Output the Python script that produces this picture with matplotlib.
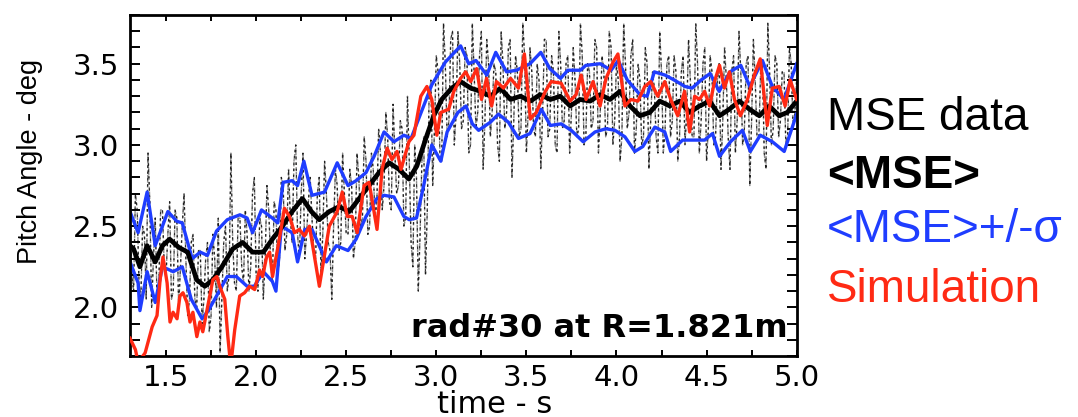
# MSE pitch angle vs time at rad#30, with mean, +/- sigma band and simulation

import numpy as np
import matplotlib.pyplot as plt
from matplotlib.ticker import MultipleLocator

# raw MSE samples, read at 1.30, 1.32, ... 5.00 s
raw_a = [2.55, 2.10, 2.60, 2.05, 2.45, 2.95, 2.00, 2.55, 2.15, 2.60, 2.20,
         2.65, 2.10, 2.55, 2.25, 2.70, 1.95, 2.40, 2.05, 2.35, 1.90,
         2.30, 1.85, 2.45, 2.00, 1.72, 2.40, 2.10, 2.95, 2.15, 2.55,
         2.25, 2.60, 2.10, 2.70, 2.20, 2.55, 2.05, 2.75, 2.30, 2.65,
         2.20, 2.80, 2.35, 2.85, 2.40, 3.00, 2.30, 2.95, 2.45, 2.80,
         2.35, 2.70, 2.20, 2.90, 2.40, 2.05, 2.85, 2.35, 2.95, 2.45,
         2.85, 2.30, 2.95, 2.50, 3.05, 2.45, 2.95, 2.55, 3.10, 2.60,
         3.20, 2.65, 3.25, 2.70, 3.15, 2.50, 3.30, 2.40, 3.00, 2.10,
         2.90, 2.20, 3.30, 2.75, 3.55, 2.95, 3.75, 3.05, 3.65, 3.00,
         3.70, 3.10, 3.60, 2.95, 3.75, 3.10, 3.55, 2.85, 3.65, 3.05,
         3.50, 3.00, 3.70, 3.10, 3.60, 2.80, 3.55, 3.05, 3.75, 2.95,
         3.60, 3.10, 3.50, 2.85, 3.65, 3.05, 3.55, 3.00, 3.70, 3.10,
         3.50, 2.95, 3.60, 3.05, 3.75, 3.00, 3.50, 3.10, 3.65, 2.95,
         3.55, 3.05, 3.70, 3.00, 3.50, 2.90, 3.75, 3.10, 3.55, 2.95,
         3.50, 3.00, 3.60, 2.85, 3.45, 3.05, 3.70, 2.95, 3.50, 3.05,
         3.55, 2.90, 3.45, 3.00, 3.65, 3.05, 3.75, 2.95, 3.50, 2.90,
         3.55, 3.00, 3.40, 2.85, 3.60, 3.05, 3.45, 2.95, 3.70, 3.00,
         3.50, 2.75, 3.65, 3.05, 3.45, 2.95, 3.75, 3.00, 3.55, 3.05,
         3.45, 3.00, 3.60, 3.10, 3.40]
# raw MSE samples in between, read at 1.31, 1.33, ... 4.99 s
raw_b = [2.20, 2.70, 2.15, 2.50, 2.05, 2.65, 2.30, 2.05, 2.60, 2.25,
         2.45, 2.05, 2.60, 2.00, 2.50, 2.30, 2.05, 2.45, 2.00, 2.35,
         2.05, 2.40, 1.95, 2.30, 2.55, 2.05, 2.50, 2.20, 2.40, 2.10,
         2.55, 2.15, 2.45, 2.25, 2.80, 2.10, 2.50, 2.30, 2.60, 2.15,
         2.60, 2.30, 2.75, 2.45, 2.55, 2.90, 2.45, 2.70, 2.30, 2.65,
         2.55, 2.30, 2.80, 2.45, 2.70, 2.35, 2.50, 2.75, 2.40, 2.70,
         2.45, 2.75, 2.40, 2.80, 2.55, 2.90, 2.50, 2.85, 2.65, 2.95,
         2.75, 3.05, 2.60, 2.95, 2.75, 3.10, 2.55, 2.90, 2.25, 2.80,
         2.45, 3.05, 2.60, 3.40, 3.10, 3.45, 2.90, 3.50, 3.15, 3.70,
         3.20, 3.50, 3.15, 3.55, 3.00, 3.45, 3.20, 3.70, 3.15, 3.50,
         3.20, 3.45, 2.90, 3.50, 3.20, 3.65, 3.15, 3.45, 3.10, 3.55,
         3.20, 3.45, 3.05, 3.40, 3.20, 3.65, 3.10, 3.45, 2.95, 3.50,
         3.15, 3.55, 3.20, 3.40, 3.10, 3.55, 3.05, 3.45, 3.15, 3.60,
         3.20, 3.45, 3.10, 3.60, 3.15, 3.40, 3.05, 3.50, 3.20, 3.65,
         3.10, 3.40, 3.05, 3.50, 3.15, 3.35, 2.95, 3.45, 3.10, 3.55,
         3.15, 3.45, 3.05, 3.55, 3.20, 3.40, 3.05, 3.50, 3.15, 3.60,
         3.10, 3.45, 3.05, 3.50, 3.15, 3.40, 2.85, 3.55, 3.15, 3.45,
         3.10, 3.55, 3.15, 3.40, 3.05, 3.50, 2.85, 3.45, 3.10, 3.50,
         3.15, 3.45, 3.05, 3.50, 3.20]

# <MSE>
mean_t = [1.30, 1.32, 1.355, 1.395, 1.44, 1.48, 1.52, 1.57, 1.62, 1.67, 1.715, 1.76,
          1.81, 1.87, 1.925, 1.98, 2.04, 2.09, 2.146, 2.20, 2.257, 2.307, 2.35, 2.406,
          2.46, 2.517, 2.572, 2.627, 2.682, 2.738, 2.793, 2.848, 2.892, 2.942, 2.986,
          3.03, 3.086, 3.135, 3.191, 3.246, 3.301, 3.356, 3.412, 3.467, 3.522, 3.577,
          3.633, 3.688, 3.743, 3.798, 3.854, 3.909, 3.964, 4.019, 4.075, 4.13, 4.185,
          4.24, 4.296, 4.351, 4.406, 4.461, 4.517, 4.572, 4.627, 4.682, 4.738, 4.793,
          4.848, 4.903, 4.948, 5.0]
mean_v = [2.38, 2.36, 2.25, 2.38, 2.28, 2.38, 2.42, 2.37, 2.34, 2.17, 2.13, 2.17,
          2.25, 2.36, 2.40, 2.34, 2.34, 2.42, 2.50, 2.59, 2.67, 2.59, 2.54, 2.59,
          2.62, 2.59, 2.67, 2.75, 2.83, 2.89, 2.85, 2.79, 2.87, 3.04, 3.18,
          3.28, 3.35, 3.39, 3.35, 3.33, 3.30, 3.35, 3.28, 3.30, 3.27, 3.31,
          3.28, 3.30, 3.24, 3.28, 3.27, 3.31, 3.28, 3.33, 3.24, 3.18, 3.20,
          3.27, 3.24, 3.27, 3.20, 3.24, 3.27, 3.18, 3.22, 3.27, 3.22, 3.18,
          3.24, 3.18, 3.20, 3.27]

# <MSE> + sigma
hi_t = [1.30, 1.345, 1.395, 1.44, 1.51, 1.56, 1.59, 1.645, 1.69, 1.73, 1.78, 1.84,
        1.91, 1.95, 1.98, 2.03, 2.09, 2.12, 2.15, 2.20, 2.23, 2.265, 2.31, 2.38,
        2.45, 2.51, 2.555, 2.61, 2.655, 2.71, 2.765, 2.82, 2.86, 2.975, 3.05, 3.135,
        3.18, 3.22, 3.28, 3.33, 3.39, 3.445, 3.52, 3.58, 3.63, 3.69, 3.73, 3.80,
        3.83, 3.91, 3.97, 4.01, 4.06, 4.13, 4.17, 4.21, 4.27, 4.32, 4.38, 4.42,
        4.47, 4.52, 4.57, 4.63, 4.69, 4.74, 4.81, 4.865, 4.93, 5.0]
hi_v = [2.59, 2.46, 2.71, 2.38, 2.59, 2.53, 2.52, 2.30, 2.34, 2.32, 2.47, 2.54,
        2.57, 2.55, 2.46, 2.60, 2.55, 2.52, 2.77, 2.78, 2.75, 2.90, 2.69, 2.71,
        2.89, 2.75, 2.78, 2.83, 2.93, 3.08, 3.02, 3.06, 3.04, 3.37, 3.51, 3.61,
        3.50, 3.52, 3.43, 3.57, 3.45, 3.46, 3.50, 3.57, 3.47, 3.41, 3.46, 3.46,
        3.49, 3.50, 3.46, 3.52, 3.40, 3.31, 3.30, 3.45, 3.43, 3.40, 3.36, 3.35,
        3.40, 3.44, 3.33, 3.45, 3.49, 3.36, 3.52, 3.36, 3.28, 3.50]

# <MSE> - sigma
lo_t = [1.30, 1.345, 1.355, 1.395, 1.44, 1.48, 1.54, 1.59, 1.64, 1.70, 1.74, 1.78,
        1.84, 1.89, 1.95, 1.99, 2.04, 2.09, 2.11, 2.14, 2.20, 2.23, 2.27, 2.31,
        2.35, 2.39, 2.445, 2.51, 2.555, 2.61, 2.67, 2.71, 2.765, 2.82, 2.85, 2.89,
        2.93, 2.975, 3.025, 3.06, 3.12, 3.165, 3.20, 3.235, 3.30, 3.345, 3.40, 3.456,
        3.52, 3.583, 3.633, 3.693, 3.749, 3.815, 3.881, 3.942, 3.992, 4.047, 4.102,
        4.146, 4.213, 4.268, 4.301, 4.367, 4.434, 4.489, 4.533, 4.572, 4.633, 4.699,
        4.743, 4.798, 4.865, 4.931, 5.0]
lo_v = [2.28, 2.15, 1.98, 2.22, 2.03, 2.25, 2.22, 2.25, 2.05, 1.93, 1.99, 2.07,
        2.19, 2.19, 2.13, 2.13, 2.22, 2.16, 2.10, 2.50, 2.46, 2.28, 2.48, 2.48,
        2.38, 2.28, 2.38, 2.35, 2.42, 2.56, 2.67, 2.69, 2.68, 2.56, 2.54, 2.55,
        2.75, 3.00, 2.90, 3.08, 3.20, 3.24, 3.13, 3.09, 3.14, 3.19, 3.14, 3.04,
        3.07, 3.22, 3.12, 3.13, 3.09, 3.02, 3.08, 3.10, 3.09, 3.05, 2.96,
        2.99, 3.11, 3.08, 2.96, 3.03, 3.03, 3.03, 3.07, 2.93, 3.02, 3.09,
        2.96, 3.06, 3.02, 2.96, 3.19]

# Simulation
sim_t = [1.30, 1.33, 1.345, 1.384, 1.423, 1.45, 1.467, 1.483, 1.506, 1.522, 1.539,
         1.561, 1.577, 1.594, 1.616, 1.633, 1.649, 1.671, 1.688, 1.704, 1.732, 1.76,
         1.782, 1.798, 1.826, 1.843, 1.859, 1.881, 1.909, 1.936, 1.964, 1.992, 2.019,
         2.036, 2.058, 2.075, 2.091, 2.119, 2.141, 2.157, 2.185, 2.213, 2.24, 2.268,
         2.296, 2.351, 2.406, 2.45, 2.478, 2.506, 2.533, 2.561, 2.599, 2.627, 2.671,
         2.699, 2.727, 2.754, 2.782, 2.804, 2.848, 2.876, 2.914, 2.948, 2.975, 3.003,
         3.025, 3.069, 3.097, 3.135, 3.163, 3.191, 3.224, 3.251, 3.279, 3.307, 3.334,
         3.373, 3.412, 3.456, 3.489, 3.522, 3.555, 3.605, 3.638, 3.693, 3.743, 3.776,
         3.804, 3.831, 3.87, 3.909, 3.942, 3.981, 4.008, 4.047, 4.08, 4.119, 4.157,
         4.19, 4.229, 4.268, 4.301, 4.34, 4.378, 4.406, 4.434, 4.461, 4.489, 4.517,
         4.544, 4.572, 4.599, 4.627, 4.655, 4.688, 4.727, 4.765, 4.798, 4.837, 4.865,
         4.903, 4.936, 4.964, 5.0]
sim_v = [1.81, 1.74, 1.66, 1.72, 1.88, 1.95, 2.17, 2.31, 2.15, 1.91, 1.97,
         1.93, 2.07, 2.09, 2.03, 1.91, 1.97, 1.82, 1.91, 1.85, 2.01, 2.17,
         2.19, 2.13, 2.05, 1.82, 1.64, 1.86, 2.07, 2.09, 2.13, 2.11, 2.23,
         2.19, 2.31, 2.34, 2.19, 2.36, 2.50, 2.61, 2.56, 2.46, 2.48, 2.44,
         2.50, 2.13, 2.50, 2.59, 2.71, 2.56, 2.56, 2.46, 2.75, 2.77, 2.48,
         2.85, 2.98, 2.91, 2.96, 2.85, 3.02, 3.06, 3.30, 3.36, 3.28, 3.06,
         3.20, 3.22, 3.33, 3.41, 3.45, 3.39, 3.47, 3.28, 3.41, 3.24, 3.39,
         3.35, 3.41, 3.35, 3.56, 3.16, 3.20, 3.33, 3.39, 3.38, 3.27, 3.31,
         3.43, 3.28, 3.39, 3.24, 3.41, 3.51, 3.56, 3.24, 3.28, 3.27, 3.36,
         3.39, 3.30, 3.39, 3.28, 3.18, 3.33, 3.08, 3.30, 3.28, 3.33, 3.24,
         3.39, 3.49, 3.35, 3.45, 3.28, 3.18, 3.28, 3.43, 3.53, 3.12, 3.35,
         3.36, 3.24, 3.40, 3.28]

blue = '#1f3dff'
red = '#ff2a14'

raw_t = np.linspace(1.30, 5.00, len(raw_a) + len(raw_b))
raw_v = np.empty(len(raw_t))
raw_v[0::2] = raw_a
raw_v[1::2] = raw_b

fig = plt.figure(figsize=(10.78, 4.17), dpi=100)
ax = fig.add_axes([0.1206, 0.146, 0.6184, 0.818])

ax.plot(raw_t, raw_v, color='0.55', lw=1.0, ls=(0, (2, 1.5)), zorder=1)
ax.plot(raw_t, raw_v, color='black', lw=0.9, ls=(1.5, (2, 3)), alpha=0.8, zorder=1)
ax.plot(hi_t, hi_v, color=blue, lw=2.4, zorder=2)
ax.plot(lo_t, lo_v, color=blue, lw=2.4, zorder=2)
ax.plot(mean_t, mean_v, color='black', lw=3.4, zorder=3)
ax.plot(sim_t, sim_v, color=red, lw=2.4, zorder=4)

ax.set_xlim(1.3, 5.0)
ax.set_ylim(1.70, 3.80)
ax.xaxis.set_major_locator(MultipleLocator(0.5))
ax.xaxis.set_minor_locator(MultipleLocator(0.25))
ax.yaxis.set_major_locator(MultipleLocator(0.5))
ax.yaxis.set_minor_locator(MultipleLocator(0.1))
ax.tick_params(axis='both', which='both', direction='in', top=True, right=True,
               width=1.4, labelsize=21)
ax.tick_params(axis='x', which='both', length=4.5, pad=6)
ax.tick_params(axis='y', which='both', length=7.5, pad=8)
ax.set_xticks([1.5, 2.0, 2.5, 3.0, 3.5, 4.0, 4.5, 5.0])
ax.set_xticklabels(['1.5', '2.0', '2.5', '3.0', '3.5', '4.0', '4.5', '5.0'])
ax.set_yticks([2.0, 2.5, 3.0, 3.5])
ax.set_yticklabels(['2.0', '2.5', '3.0', '3.5'])
for s in ax.spines.values():
    s.set_linewidth(2.0)

ax.text(0.987, 0.055, 'rad#30 at R=1.821m', transform=ax.transAxes,
        ha='right', va='baseline', fontsize=23, fontweight='bold')

fig.text(30 / 1078, 1 - 161 / 417, 'Pitch Angle - deg', rotation=90,
         ha='center', va='center', fontsize=19.5, family='Liberation Sans')
fig.text(495 / 1078, 1 - 413 / 417, 'time - s', ha='center', va='baseline',
         fontsize=22)

# legend written as coloured text to the right
lx = 827 / 1078
fig.text(lx, 1 - 130 / 417, 'MSE data', color='black', fontsize=33,
         family='Liberation Sans', va='baseline')
fig.text(lx, 1 - 188 / 417, '<MSE>', color='black', fontsize=33,
         family='Liberation Sans', fontweight='bold', va='baseline')
fig.text(lx, 1 - 242 / 417, '<MSE>+/-σ', color=blue, fontsize=33,
         family='Liberation Sans', va='baseline')
fig.text(lx, 1 - 302 / 417, 'Simulation', color=red, fontsize=33,
         family='Liberation Sans', va='baseline')

fig.savefig('out.png', dpi=100)
